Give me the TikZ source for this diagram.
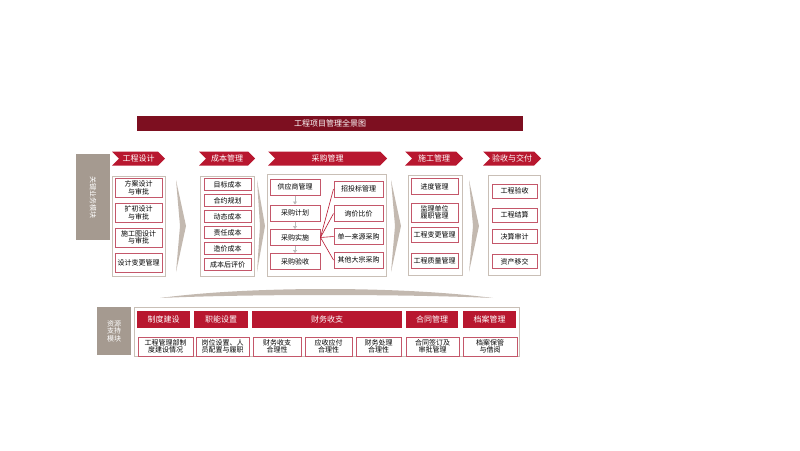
\documentclass[tikz,border=0pt]{standalone}
\usepackage{fontspec}
\setmainfont{Noto Sans CJK SC}
\usetikzlibrary{shapes.symbols,shadows,arrows.meta}
\definecolor{titlered}{HTML}{7D0F20}
\definecolor{headred}{HTML}{B8172F}
\definecolor{itemline}{HTML}{C4576A}
\definecolor{colline}{HTML}{C9BFB6}
\definecolor{sidegray}{HTML}{A59A90}
\definecolor{sepgray}{HTML}{C3B9B0}
\begin{document}
\begin{tikzpicture}[x=1pt,y=-1pt,
  bar/.style={fill=titlered, text=white, inner sep=0pt, font=\fontsize{8}{9}\selectfont},
  head/.style={signal, signal to=east, signal from=west, fill=headred, text=white, inner sep=0pt, minimum height=14pt, font=\fontsize{8}{9}\selectfont},
  col/.style={draw=colline, fill=white, line width=0.8pt, inner sep=0pt, drop shadow={opacity=0.25, shadow xshift=1pt, shadow yshift=-1pt}},
  item/.style={draw=itemline, fill=white, line width=1pt, align=center, inner sep=0pt, font=\fontsize{7}{7.5}\selectfont},
  side/.style={fill=sidegray, text=white, inner sep=0pt, align=center, font=\fontsize{7}{7.5}\selectfont},
  foot/.style={fill=headred, text=white, inner sep=0pt, minimum height=17pt, font=\fontsize{8}{9}\selectfont},
  arr/.style={-{Triangle[width=4pt,length=3pt]}, draw=gray!55, line width=0.5pt},
  fan/.style={draw=headred, line width=0.6pt}]
\useasboundingbox (0,0) rectangle (800,450);

\node [bar, minimum width=386pt, minimum height=15pt] (title) at (330,123.5) {工程项目管理全景图};

\node [side, minimum width=34pt, minimum height=86pt] (side1) at (93,197) {};
\node [text=white, rotate=-90, inner sep=0pt, font=\fontsize{7}{7.5}\selectfont] (sidetext) at (side1.center) {关键业务模块};

\node [head, minimum width=53pt] (h1) at (138.5,158.5) {工程设计};
\node [head, minimum width=56pt] (h2) at (227,158.5) {成本管理};
\node [head, minimum width=119pt] (h3) at (327.5,158.5) {采购管理};
\node [head, minimum width=58pt] (h4) at (434,158.5) {施工管理};
\node [head, minimum width=58pt] (h5) at (512,158.5) {验收与交付};

\node [col, minimum width=53pt, minimum height=100pt] (c1) at (138.5,226) {};
\node [col, minimum width=54pt, minimum height=100pt] (c2) at (227,226) {};
\node [col, minimum width=119pt, minimum height=102pt] (c3) at (326.5,225) {};
\node [col, minimum width=54pt, minimum height=100pt] (c4) at (435,225) {};
\node [col, minimum width=52pt, minimum height=100pt] (c5) at (514,225) {};

\fill [sepgray] (176,180) -- (186,226) -- (176,272) -- (180,226) -- cycle;
\fill [sepgray] (257,180) -- (265,226) -- (257,272) -- (260,226) -- cycle;
\fill [sepgray] (391,180) -- (401,226) -- (391,272) -- (395,226) -- cycle;
\fill [sepgray] (469,180) -- (479,226) -- (469,272) -- (473,226) -- cycle;

\node [item, minimum width=47pt, minimum height=19pt] (a1) at (138.5,188) {方案设计\\与审批};
\node [item, minimum width=47pt, minimum height=19pt] (a2) at (138.5,213) {扩初设计\\与审批};
\node [item, minimum width=47pt, minimum height=19pt] (a3) at (138.5,237.5) {施工图设计\\与审批};
\node [item, minimum width=47pt, minimum height=19pt] (a4) at (138.5,262.5) {设计变更管理};

\node [item, minimum width=47pt, minimum height=12pt] (b1) at (227.5,184.5) {目标成本};
\node [item, minimum width=47pt, minimum height=12pt] (b2) at (227.5,200.5) {合约规划};
\node [item, minimum width=47pt, minimum height=12pt] (b3) at (227.5,216.5) {动态成本};
\node [item, minimum width=47pt, minimum height=12pt] (b4) at (227.5,232.5) {责任成本};
\node [item, minimum width=47pt, minimum height=12pt] (b5) at (227.5,248.5) {造价成本};
\node [item, minimum width=47pt, minimum height=12pt] (b6) at (227.5,264.5) {成本后评价};

\node [item, minimum width=50pt, minimum height=16pt] (p1) at (295,187) {供应商管理};
\node [item, minimum width=50pt, minimum height=16pt] (p2) at (295,213) {采购计划};
\node [item, minimum width=50pt, minimum height=16pt] (p3) at (295,237.5) {采购实施};
\node [item, minimum width=50pt, minimum height=16pt] (p4) at (295,261.5) {采购验收};
\node [item, minimum width=49pt, minimum height=16pt] (q1) at (358.5,189) {招投标管理};
\node [item, minimum width=49pt, minimum height=16pt] (q2) at (358.5,213.5) {询价比价};
\node [item, minimum width=49pt, minimum height=16pt] (q3) at (358.5,236.5) {单一来源采购};
\node [item, minimum width=49pt, minimum height=16pt] (q4) at (358.5,260) {其他大宗采购};
\draw [arr] (p1) -- (p2);
\draw [arr] (p2) -- (p3);
\draw [arr] (p3) -- (p4);
\draw [fan] (p3.east) -- (q1.west);
\draw [fan] (p3.east) -- (q2.west);
\draw [fan] (p3.east) -- (q3.west);
\draw [fan] (p3.east) -- (q4.west);

\node [item, minimum width=47pt, minimum height=16pt] (d1) at (434.5,186.5) {进度管理};
\node [item, minimum width=47pt, minimum height=19pt] (d2) at (434.5,212.5) {监理单位\\履职管理};
\node [item, minimum width=47pt, minimum height=15pt] (d3) at (434.5,235) {工程变更管理};
\node [item, minimum width=47pt, minimum height=15pt] (d4) at (434.5,260.5) {工程质量管理};

\node [item, minimum width=45pt, minimum height=14pt] (e1) at (514.5,191) {工程验收};
\node [item, minimum width=45pt, minimum height=14pt] (e2) at (514.5,215) {工程结算};
\node [item, minimum width=45pt, minimum height=14pt] (e3) at (514.5,236.5) {决算审计};
\node [item, minimum width=45pt, minimum height=14pt] (e4) at (514.5,261.5) {资产移交};

\fill [sepgray] (160,298) .. controls (250,286) and (400,286) .. (493,298) .. controls (400,294) and (250,294) .. (160,298) -- cycle;

\node [side, minimum width=34pt, minimum height=48pt] (side2) at (114,331) {资源\\支持\\模块};
\node [col, minimum width=385pt, minimum height=49pt] (base) at (326.5,331.5) {};

\node [foot, minimum width=53pt] (r1) at (163.5,319.5) {制度建设};
\node [foot, minimum width=54pt] (r2) at (221,319.5) {职能设置};
\node [foot, minimum width=150pt] (r3) at (327,319.5) {财务收支};
\node [foot, minimum width=52pt] (r4) at (432,319.5) {合同管理};
\node [foot, minimum width=53pt] (r5) at (489.5,319.5) {档案管理};

\node [item, minimum width=55pt, minimum height=19pt] (s1) at (165.5,346.5) {工程管理部制\\度建设情况};
\node [item, minimum width=53pt, minimum height=19pt] (s2) at (222.5,346.5) {岗位设置、人\\员配置与履职};
\node [item, minimum width=48pt, minimum height=19pt] (s3) at (277,346.5) {财务收支\\合理性};
\node [item, minimum width=47pt, minimum height=19pt] (s4) at (328.5,346.5) {应收应付\\合理性};
\node [item, minimum width=45pt, minimum height=19pt] (s5) at (378.5,346.5) {财务处理\\合理性};
\node [item, minimum width=53pt, minimum height=19pt] (s6) at (432.5,346.5) {合同签订及\\审批管理};
\node [item, minimum width=54pt, minimum height=19pt] (s7) at (490,346.5) {档案保管\\与借阅};
\end{tikzpicture}
\end{document}
